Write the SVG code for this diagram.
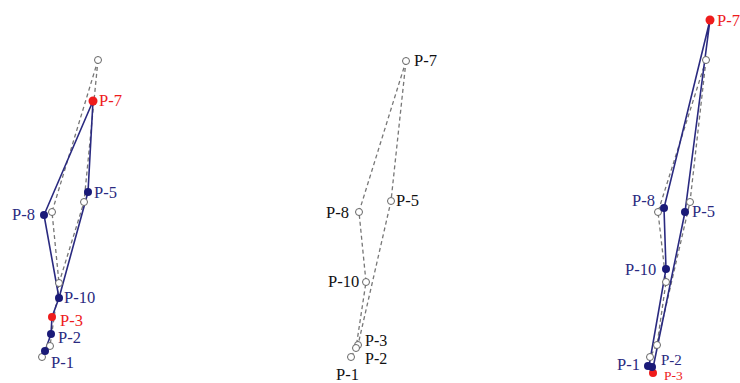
<svg xmlns="http://www.w3.org/2000/svg" width="740" height="383" viewBox="0 0 740 383">
<style>
.d{fill:none;stroke:#777;stroke-width:1.3;stroke-dasharray:4,3}
.s{fill:none;stroke:#2a2a80;stroke-width:1.6}
.o{fill:#fff;stroke:#666;stroke-width:1}
.b{fill:#1a1a78}
.r{fill:#ee1c1c}
.tb{fill:#2a2a80}
.tr{fill:#ee1c1c}
.tk{fill:#111}
</style>
<rect width="740" height="383" fill="#fff"/>
<g id="connectors">
<path class="d" d="M98,60 L52,212 L59,283 L50,346 L42,357 M98,60 L84,202 L59,283"/>
<path class="s" d="M45,351 L51,334 L52,317 L59,298 L44,215 L93,101 L88,192 L59,298"/>
<path class="d" d="M406,61 L359,212 L366,282 L356,348 L351,357 M406,61 L391,201 L358,345"/>
<path class="d" d="M706,60 L658,212 L666,282 L657,345 L650,357 M706,60 L690,202 L657,345"/>
<path class="s" d="M710,20 L664,208 L666,269 L649,366 M710,20 L685,212 L653,368"/>
</g>
<g id="left" font-family="Liberation Serif, Times New Roman, serif" font-size="16.5">
<circle class="o" cx="98" cy="60" r="3.5"/>
<circle class="o" cx="84" cy="202" r="3.5"/>
<circle class="o" cx="52" cy="212" r="3.5"/>
<circle class="o" cx="59" cy="283" r="3.5"/>
<circle class="o" cx="50" cy="346" r="3.5"/>
<circle class="o" cx="42" cy="357" r="3.5"/>
<circle class="r" cx="93" cy="101" r="4.5"/>
<circle class="b" cx="88" cy="192" r="4"/>
<circle class="b" cx="44" cy="215" r="4"/>
<circle class="b" cx="59" cy="298" r="4"/>
<circle class="r" cx="52" cy="317" r="4"/>
<circle class="b" cx="51" cy="334" r="4"/>
<circle class="b" cx="45" cy="351" r="4"/>
<text class="tr" x="99" y="106">P-7</text>
<text class="tb" x="94" y="198">P-5</text>
<text class="tb" x="12" y="220">P-8</text>
<text class="tb" x="64" y="303">P-10</text>
<text class="tr" x="60" y="326">P-3</text>
<text class="tb" x="58" y="343">P-2</text>
<text class="tb" x="51" y="368">P-1</text>
</g>
<g id="middle" font-family="Liberation Serif, Times New Roman, serif" font-size="16.5">
<circle class="o" cx="406" cy="61" r="3.5"/>
<circle class="o" cx="391" cy="201" r="3.5"/>
<circle class="o" cx="359" cy="212" r="3.5"/>
<circle class="o" cx="366" cy="282" r="3.5"/>
<circle class="o" cx="358" cy="345" r="3.5"/>
<circle class="o" cx="356" cy="348" r="3.5"/>
<circle class="o" cx="351" cy="357" r="3.5"/>
<text class="tk" x="414" y="66">P-7</text>
<text class="tk" x="396" y="206">P-5</text>
<text class="tk" x="326" y="218">P-8</text>
<text class="tk" x="328" y="287">P-10</text>
<text class="tk" x="365" y="346" font-size="16">P-3</text>
<text class="tk" x="365" y="364" font-size="16">P-2</text>
<text class="tk" x="336" y="380">P-1</text>
</g>
<g id="right" font-family="Liberation Serif, Times New Roman, serif" font-size="16.5">
<circle class="o" cx="706" cy="60" r="3.5"/>
<circle class="o" cx="658" cy="212" r="3.5"/>
<circle class="o" cx="690" cy="202" r="3.5"/>
<circle class="o" cx="666" cy="282" r="3.5"/>
<circle class="o" cx="657" cy="345" r="3.5"/>
<circle class="o" cx="650" cy="357" r="3.5"/>
<circle class="r" cx="710" cy="20" r="4.5"/>
<circle class="b" cx="664" cy="208" r="4"/>
<circle class="b" cx="685" cy="212" r="4"/>
<circle class="b" cx="666" cy="269" r="4"/>
<circle class="r" cx="653" cy="373" r="4"/>
<circle class="b" cx="652" cy="367" r="4"/>
<circle class="b" cx="648" cy="366" r="4"/>
<text class="tr" x="717" y="26">P-7</text>
<text class="tb" x="632" y="206">P-8</text>
<text class="tb" x="692" y="217">P-5</text>
<text class="tb" x="625" y="275">P-10</text>
<text class="tb" x="617" y="370">P-1</text>
<text class="tb" x="661" y="365" font-size="15">P-2</text>
<text class="tr" x="664" y="379.5" font-size="13.5">P-3</text>
</g>
</svg>
